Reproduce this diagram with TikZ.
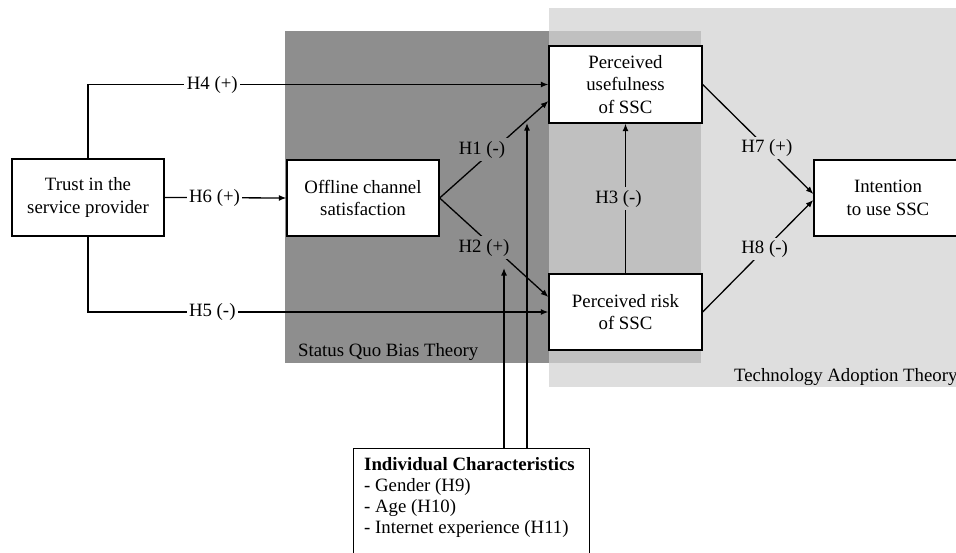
\documentclass[tikz,border=0pt]{standalone}
\usepackage{fontspec}
\setmainfont{Liberation Serif}
\usetikzlibrary{arrows.meta}
\definecolor{sqdark}{RGB}{142,142,142}
\definecolor{ovmid}{RGB}{192,192,192}
\definecolor{talight}{RGB}{222,222,222}
\begin{document}
\begin{tikzpicture}[x=1pt,y=-1pt,
  box/.style={draw, fill=white, line width=1.3pt, align=center,
    font=\fontsize{18.8}{22.5}\selectfont, inner sep=0pt},
  conn/.style={line width=1.3pt, -{Latex[length=7.5pt,width=6pt]}},
  hyp/.style={font=\fontsize{18.8}{22}\selectfont, inner sep=2.5pt},
  theory/.style={font=\fontsize{18.8}{22}\selectfont, inner sep=0pt, anchor=west},
]
\useasboundingbox (0,0) rectangle (956,552);
\fill[white] (0,0) rectangle (956,552);
% theory regions
\fill[talight] (549,8) rectangle (960,387);
\fill[sqdark] (285,31) rectangle (549,363);
\fill[ovmid] (549,31) rectangle (701,363);
\node[theory] (sqt) at (298,352) {Status Quo Bias Theory};
\node[theory] (tat) at (734,377) {Technology Adoption Theory};

% constructs
\node[box, minimum width=152pt, minimum height=77pt] (trust) at (88,197.5) {Trust in the\\service provider};
\node[box, minimum width=152pt, minimum height=76pt] (offline) at (363,198) {Offline channel\\satisfaction};
\node[box, minimum width=153pt, minimum height=77pt] (pu) at (625.5,84.5) {Perceived\\usefulness\\of SSC};
\node[box, minimum width=153pt, minimum height=76pt] (pr) at (625.5,312) {Perceived risk\\of SSC};
\node[box, minimum width=148pt, minimum height=76pt] (intent) at (888,198) {Intention\\to use SSC};

% individual characteristics
\node[draw, fill=white, line width=1.3pt, anchor=north west, minimum width=236pt, minimum height=120pt, inner sep=0pt] (ic) at (353,448) {};
\node[anchor=north west, align=left, inner sep=0pt, font=\fontsize{18.8}{21}\selectfont] (ictext) at (364,457)
  {\textbf{Individual Characteristics}\\- Gender (H9)\\- Age (H10)\\- Internet experience (H11)};

% moderating arrows
\coordinate (m1) at (504,268);
\coordinate (m2) at (527,123);
\draw[conn] (m1 |- ic.north) -- (m1);
\draw[conn] (m2 |- ic.north) -- (m2);

% hypotheses
\draw[conn] (trust.north) |- node[hyp, fill=white, pos=0.635]{H4 (+)} (pu.west);
\draw[conn] (trust.east) -- node[hyp, fill=white, pos=0.41]{H6 (+)} (offline.west);
\draw[conn] (trust.south) |- node[hyp, fill=white, pos=0.635]{H5 (-)} (pr.west);
\draw[conn] (offline.east) -- node[hyp, fill=sqdark, pos=0.5, xshift=-12pt]{H1 (-)} ([yshift=-16.5pt]pu.west);
\draw[conn] (offline.east) -- node[hyp, fill=sqdark, pos=0.5, xshift=-10pt]{H2 (+)} ([yshift=15pt]pr.west);
\draw[conn] (pr.north) -- node[hyp, fill=ovmid, xshift=-7pt]{H3 (-)} (pu.south);
\draw[conn] (pu.east) -- node[hyp, fill=talight, pos=0.58]{H7 (+)} ([yshift=4pt]intent.west);
\draw[conn] (pr.east) -- node[hyp, fill=talight, pos=0.56]{H8 (-)} ([yshift=-2pt]intent.west);
\end{tikzpicture}
\end{document}
